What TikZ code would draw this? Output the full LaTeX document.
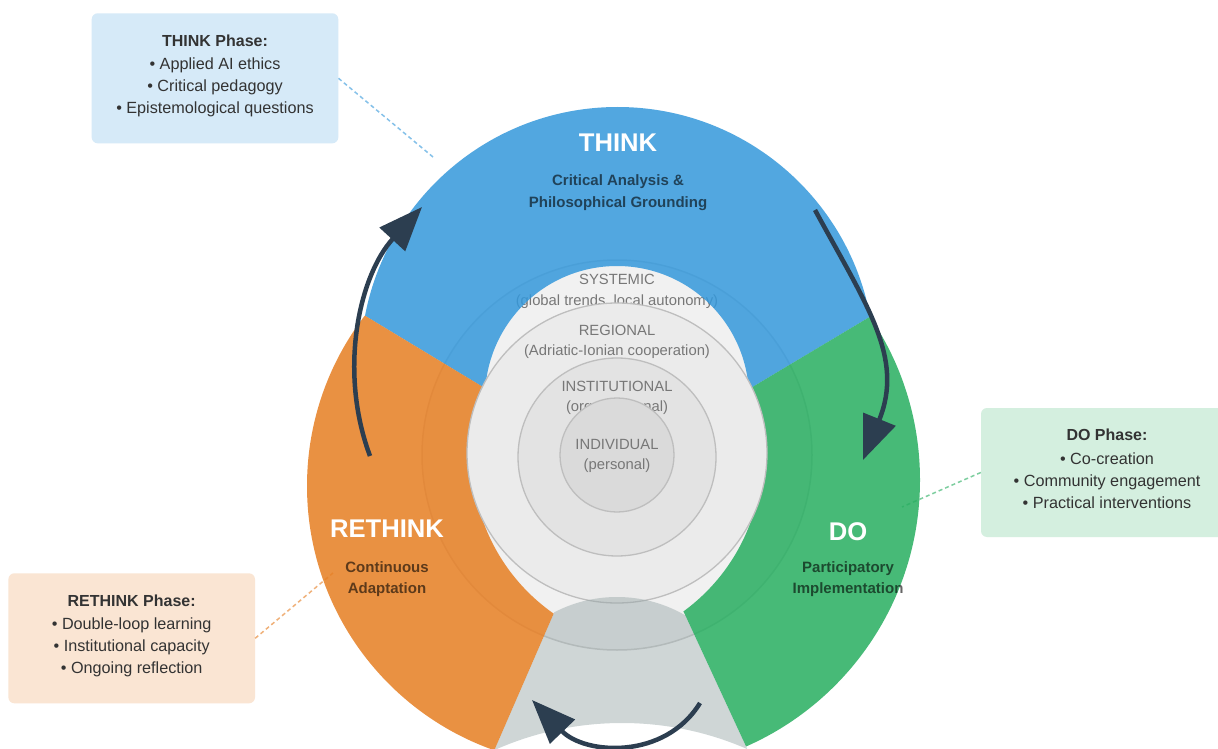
\documentclass[tikz,border=0pt]{standalone}
\usepackage{fontspec}
\setmainfont{Liberation Sans}
\usetikzlibrary{arrows.meta}

\definecolor{thinkc}{HTML}{3498DB}
\definecolor{doc}{HTML}{27AE60}
\definecolor{rethinkc}{HTML}{E67E22}
\definecolor{gapc}{HTML}{95A5A6}
\definecolor{navy}{HTML}{2C3E50}
\definecolor{lvltext}{HTML}{777777}
\definecolor{boxtext}{HTML}{333333}
\definecolor{sysfill}{HTML}{F1F1F1}
\definecolor{sysline}{HTML}{CCCCCC}
\definecolor{regfill}{HTML}{EBEBEB}
\definecolor{instfill}{HTML}{E3E3E3}
\definecolor{indfill}{HTML}{DADADA}
\definecolor{ringline}{HTML}{BEBEBE}

\begin{document}
\begin{tikzpicture}[x=1pt,y=-1pt,
  lvl/.style={font=\fontsize{14.8}{16}\selectfont, text=lvltext, anchor=base, inner sep=0pt},
  phaselabel/.style={font=\fontsize{25.6}{28}\selectfont\bfseries, text=white, anchor=base, inner sep=0pt},
  sublabel/.style={font=\fontsize{15}{17}\selectfont\bfseries, text=black, text opacity=0.6, anchor=base, inner sep=0pt},
  phasebox/.style={rounded corners=6pt, inner sep=0pt, minimum width=246.6pt, minimum height=130pt},
  boxtitle/.style={font=\fontsize{16}{18}\selectfont\bfseries, text=boxtext, anchor=base, inner sep=0pt},
  boxitem/.style={font=\fontsize{16.2}{18}\selectfont, text=boxtext, anchor=base, inner sep=0pt},
  leader/.style={dash pattern=on 4pt off 3pt, line width=1.5pt, draw opacity=0.6},
  cyclearrow/.style={draw=navy, line width=4.5pt, -{Triangle[length=44pt,width=34pt]}},
  ring/.style={line width=1.3pt, draw=ringline},
]
\clip (0,0) rectangle (1218,749);
\fill[white] (0,0) rectangle (1218,749);

% common apex of the four wedges
\coordinate (P) at (617,468);

% ---- systemic level (lies beneath the translucent phase ring)
\draw[fill=sysfill, draw=sysline, line width=1.5pt] (617,455) circle[radius=195];
\node[lvl] (sysA) at (617,284.3) {SYSTEMIC};
\node[lvl] (sysB) at (617,305.3) {(global trends, local autonomy)};

% ---- THINK sector
\begin{scope}
  \clip (P) -- (200,216) -- (200,-50) -- (1000,-50) -- (1000,239) -- cycle;
  \clip (617.5,364) circle[radius=257];
  \fill[thinkc, fill opacity=0.85, even odd rule] (0,-100) rectangle (1300,900) (617,398) circle[radius=132];
\end{scope}

% ---- RETHINK sector
\begin{scope}
  \clip (P) -- (200,216) -- (200,850) -- (451,850) -- cycle;
  \clip (587,486) circle[radius=280];
  \fill[rethinkc, fill opacity=0.85, even odd rule] (0,-100) rectangle (1300,900) (663,457) circle[radius=191];
\end{scope}

% ---- DO sector
\begin{scope}
  \clip (P) -- (1000,239) -- (1000,850) -- (794,850) -- cycle;
  \clip (629,480) circle[radius=291];
  \fill[doc, fill opacity=0.85, even odd rule] (0,-100) rectangle (1300,900) (571,457) circle[radius=191];
\end{scope}

% ---- nested levels
\draw[ring, fill=regfill] (617,453) circle[radius=150];
\node[lvl] (regA) at (617,335.3) {REGIONAL};
\node[lvl] (regB) at (617,355.3) {(Adriatic-Ionian cooperation)};

\draw[ring, fill=instfill] (617,457) circle[radius=99];
\node[lvl] (instA) at (617,391.3) {INSTITUTIONAL};
\node[lvl] (instB) at (617,411.3) {(organizational)};

\draw[ring, fill=indfill] (617,455) circle[radius=57];
\node[lvl] (indA) at (617,449.3) {INDIVIDUAL};
\node[lvl] (indB) at (617,469.3) {(personal)};

% ---- transition gap at the bottom of the cycle
\begin{scope}
  \clip (P) -- (451,850) -- (794,850) -- cycle;
  \clip (617,733) circle[radius=136];
  \fill[gapc, fill opacity=0.45, even odd rule] (0,-100) rectangle (1300,900) (622,1036) circle[radius=313];
\end{scope}

% ---- phase labels
\node[phaselabel] (think) at (618,152) {THINK};
\node[sublabel] (thinkA) at (618,185.5) {Critical Analysis \&};
\node[sublabel] (thinkB) at (618,207.5) {Philosophical Grounding};

\node[phaselabel] (rethink) at (387,537) {RETHINK};
\node[sublabel] (rethinkA) at (387,572.5) {Continuous};
\node[sublabel] (rethinkB) at (387,593.5) {Adaptation};

\node[phaselabel] (do) at (848,540) {DO};
\node[sublabel] (doA) at (848,572.5) {Participatory};
\node[sublabel] (doB) at (848,593.5) {Implementation};

% ---- cycle arrows
\coordinate (upS) at (370,456);
\coordinate (upE) at (422,207);
\draw[cyclearrow] (upS) .. controls (337.8,369.7) and (359.7,274.9) .. (upE);

\coordinate (dnS) at (815,210);
\coordinate (dnE) at (863,460);
\draw[cyclearrow] (dnS) .. controls (867.5,306.7) and (904.3,358) .. (dnE);

\coordinate (btS) at (700,703);
\coordinate (btE) at (532,700);
\draw[cyclearrow] (btS) .. controls (665,760) and (585,755) .. (btE);

% ---- detail boxes
\node[phasebox, fill=thinkc!20] (thinkbox) at (215,78.3) {};
\node[boxtitle] (thinkT) at (215,46.5) {THINK Phase:};
\node[boxitem] (think1) at (215,70) {• Applied AI ethics};
\node[boxitem] (think2) at (215,91.8) {• Critical pedagogy};
\node[boxitem] (think3) at (215,113.7) {• Epistemological questions};

\node[phasebox, fill=doc!20, minimum width=252pt, minimum height=129pt] (dobox) at (1107,472.5) {};
\node[boxtitle] (doT) at (1107,440.7) {DO Phase:};
\node[boxitem] (do1) at (1107,464.5) {• Co-creation};
\node[boxitem] (do2) at (1107,486.5) {• Community engagement};
\node[boxitem] (do3) at (1107,508.5) {• Practical interventions};

\node[phasebox, fill=rethinkc!20] (rethinkbox) at (131.7,638.3) {};
\node[boxtitle] (rethinkT) at (131.7,606) {RETHINK Phase:};
\node[boxitem] (rethink1) at (131.7,629.5) {• Double-loop learning};
\node[boxitem] (rethink2) at (131.7,651.5) {• Institutional capacity};
\node[boxitem] (rethink3) at (131.7,673.5) {• Ongoing reflection};

% ---- leaders from boxes to their phases
\coordinate (thinkTo) at (433,157);
\coordinate (doTo) at (902,507);
\coordinate (rethinkTo) at (333,573);
\draw[leader, draw=thinkc] (thinkbox.east) -- (thinkTo);
\draw[leader, draw=doc] (dobox.west) -- (doTo);
\draw[leader, draw=rethinkc] (rethinkbox.east) -- (rethinkTo);
\end{tikzpicture}
\end{document}
